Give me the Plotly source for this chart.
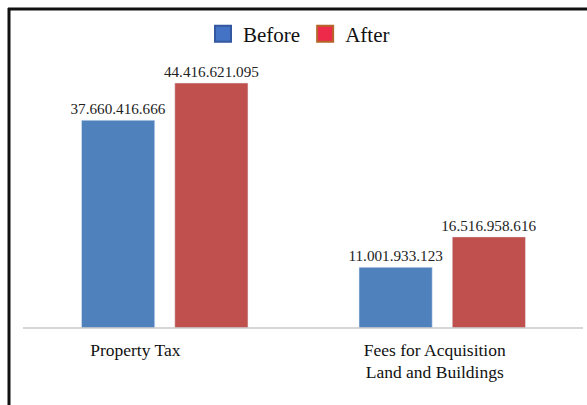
import plotly.graph_objects as go

categories = ["Property Tax", "Fees for Acquisition<br>Land and Buildings"]
before_vals = [37660416666, 11001933123]
after_vals = [44416621095, 16516958616]
series_names = ["Before", "After"]

def fmt(v):
    return f"{v:,}".replace(",", ".")

W, H = 587, 405
L, R, T, B = 26, 6, 58, 77
pw, ph = W - L - R, H - T - B

def px(x):
    return (x - L) / pw

def py(y):
    return (H - B - y) / ph

serif = "Liberation Serif, Times New Roman, serif"
label_offsets = [-0.106, -0.027]  # tick label shift (category units), style only

fig = go.Figure()
fig.add_trace(go.Bar(x=categories, y=before_vals, name=series_names[0],
                     marker=dict(color="#4F81BD"),
                     text=[fmt(v) for v in before_vals], textposition="outside",
                     constraintext="none",
                     textfont=dict(family=serif, size=15.2, color="#222222"),
                     cliponaxis=False, showlegend=False))
fig.add_trace(go.Bar(x=categories, y=after_vals, name=series_names[1],
                     marker=dict(color="#C0504D"),
                     text=[fmt(v) for v in after_vals], textposition="outside",
                     constraintext="none",
                     textfont=dict(family=serif, size=15.2, color="#222222"),
                     cliponaxis=False, showlegend=False))
# legend entries
fig.add_trace(go.Scatter(x=[None], y=[None], mode="markers", name=series_names[0],
                         marker=dict(symbol="square", size=16, color="#4472C4",
                                     line=dict(color="#3358A0", width=2))))
fig.add_trace(go.Scatter(x=[None], y=[None], mode="markers", name=series_names[1],
                         marker=dict(symbol="square", size=16, color="#EE2A4A",
                                     line=dict(color="#B5652A", width=2))))

fig.update_layout(
    width=W, height=H,
    margin=dict(l=L, r=R, t=T, b=B, pad=0),
    paper_bgcolor="white", plot_bgcolor="white",
    barmode="group", bargap=0.328, bargroupgap=0.215,
    font=dict(family=serif, color="#111111"),
    showlegend=True,
    legend=dict(orientation="h", x=px(203), xanchor="left", y=py(34), yanchor="middle",
                font=dict(family=serif, size=21, color="#111111"),
                itemsizing="trace", bgcolor="rgba(0,0,0,0)", tracegroupgap=0),
    xaxis=dict(showline=False, ticks="", showgrid=False,
               tickmode="array",
               tickvals=[i + d for i, d in enumerate(label_offsets)],
               ticktext=categories,
               ticklabelstandoff=9,
               tickfont=dict(family=serif, size=17.5, color="#111111")),
    yaxis=dict(visible=False, range=[0, 44416621095 * 270 / 245], showgrid=False),
    shapes=[
        dict(type="line", xref="paper", yref="paper", x0=px(23), x1=px(583), y0=0, y1=0,
             line=dict(color="#C8C8C8", width=1.5)),
        dict(type="line", xref="paper", yref="paper", x0=px(8), x1=px(590), y0=py(9), y1=py(9),
             line=dict(color="#111111", width=3)),
        dict(type="line", xref="paper", yref="paper", x0=px(9), x1=px(9), y0=py(8), y1=py(410),
             line=dict(color="#111111", width=3)),
    ],
)

fig.write_html("out.html")
